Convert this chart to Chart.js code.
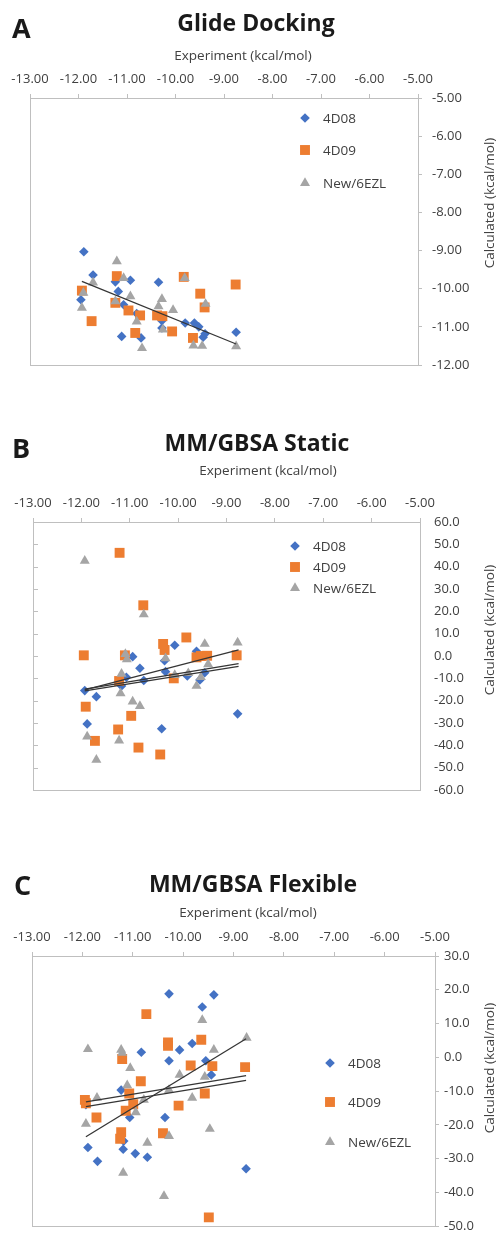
<!DOCTYPE html>
<html>
<head>
<meta charset="utf-8">
<script src="https://cdn.jsdelivr.net/npm/chart.js@4/dist/chart.umd.min.js"></script>
<style>
  body { margin: 0; background: #fff; width: 499px; height: 1239px; position: relative; overflow: hidden; }
  canvas { position: absolute; left: 0; }
</style>
</head>
<body>
<canvas id="chartA" width="499" height="400" style="top:0px"></canvas>
<canvas id="chartB" width="499" height="440" style="top:400px"></canvas>
<canvas id="chartC" width="499" height="399" style="top:840px"></canvas>
<script>
const seriesNames = ['4D08', '4D09', 'New/6EZL'];
const trendX = [-11.93, -8.75];

// A - Glide Docking
const aX08 = [-11.89, -11.70, -11.95, -11.24, -11.18, -10.93, -11.07, -10.80, -11.11, -10.71, -10.35, -10.28, -10.28, -9.80, -9.61, -9.52, -9.43, -9.39, -8.75];
const aY08 = [-9.03, -9.64, -10.29, -9.82, -10.07, -9.78, -10.42, -10.65, -11.25, -11.29, -9.83, -10.84, -11.03, -10.90, -10.90, -11.00, -11.27, -11.18, -11.14];
const aX09 = [-11.93, -11.73, -11.21, -11.24, -10.97, -10.73, -10.83, -10.38, -10.27, -10.07, -9.83, -9.64, -9.49, -9.40, -8.76];
const aY09 = [-10.05, -10.85, -9.67, -10.37, -10.57, -10.70, -11.16, -10.70, -10.72, -11.12, -9.69, -11.29, -10.13, -10.49, -9.89];
const aXNew = [-11.93, -11.90, -11.70, -11.21, -11.07, -11.24, -10.93, -10.80, -10.69, -10.35, -10.28, -10.26, -10.05, -9.81, -9.63, -9.45, -9.38, -8.75];
const aYNew = [-10.50, -10.11, -9.84, -9.28, -9.72, -10.33, -10.20, -10.86, -11.56, -10.46, -10.27, -11.07, -10.56, -9.72, -11.49, -11.50, -10.40, -11.51];
const aTrends = [[-9.81, -11.45]];

// B - MM/GBSA Static
const bX08 = [-11.93, -11.69, -11.88, -10.34, -8.77, -10.94, -10.79, -10.71, -11.07, -11.17, -10.07, -10.26, -10.28, -9.81, -9.62, -9.55, -9.45];
const bY08 = [-15.5, -18.2, -30.4, -32.6, -25.9, -0.3, -5.5, -11.0, -9.5, -13.4, 4.8, -7.0, -2.1, -8.9, 2.1, -10.7, -7.5];
const bX09 = [-11.21, -11.95, -11.91, -11.72, -11.24, -11.10, -11.22, -10.97, -10.82, -10.72, -10.37, -10.31, -10.28, -10.09, -9.83, -9.62, -9.53, -9.40, -8.79];
const bY09 = [46.2, 0.3, -22.7, -38.0, -32.9, 0.3, -11.2, -26.8, -41.0, 22.7, -44.1, 5.4, 2.7, -10.0, 8.3, -0.6, 0.0, 0.1, 0.3];
const bXNew = [-11.93, -11.88, -11.69, -11.22, -11.19, -11.17, -11.09, -11.06, -10.94, -10.79, -10.71, -10.26, -10.07, -9.79, -9.62, -9.53, -9.45, -9.38, -8.77];
const bYNew = [42.6, -36.1, -46.5, -37.9, -16.7, -8.0, 0.9, -1.5, -20.4, -22.4, 18.6, -1.0, -8.5, -7.7, -13.4, -9.5, 5.4, -3.7, 6.0];
const bTrends = [[-15.2, 2.7], [-14.8, -3.4], [-15.6, -4.6]];

// C - MM/GBSA Flexible
const cX08 = [-10.28, -9.39, -9.62, -10.83, -10.28, -10.07, -9.82, -9.55, -9.44, -11.23, -11.89, -11.70, -11.19, -10.95, -10.71, -10.36, -8.75, -11.06, -11.18, -11.93];
const cY08 = [18.8, 18.5, 14.9, 1.5, -1.0, 2.2, 4.1, -1.0, -5.2, -9.7, -26.7, -30.8, -27.2, -28.5, -29.6, -17.8, -33.0, -17.8, -24.8, -14.0];
const cX09 = [-10.73, -10.30, -10.30, -9.64, -11.21, -10.84, -9.85, -9.42, -8.77, -9.57, -11.07, -11.95, -11.93, -11.72, -10.99, -11.14, -11.23, -11.25, -10.40, -10.09, -9.49];
const cY09 = [12.8, 4.4, 3.4, 5.2, -0.5, -7.1, -2.4, -2.6, -2.9, -10.7, -10.7, -12.6, -13.6, -17.8, -13.9, -15.8, -22.2, -24.1, -22.5, -14.3, -47.4];
const cXNew = [-11.89, -11.23, -11.21, -11.05, -11.11, -11.71, -11.93, -10.94, -10.78, -10.71, -11.19, -10.38, -10.28, -10.07, -10.28, -9.82, -9.57, -9.47, -9.39, -8.74, -9.62];
const cYNew = [2.4, 2.2, 1.3, -3.2, -8.3, -12.0, -19.7, -16.3, -12.6, -25.3, -34.2, -41.1, -23.3, -5.2, -9.7, -12.0, -5.8, -21.2, 2.2, 5.8, 11.0];
const cTrends = [[-23.5, 5.5], [-13.2, -5.4], [-14.6, -6.8]];

const FONT = "'Open Sans', sans-serif";
const TEXT = '#404040';
const AXIS = '#bfbfbf';
const styles = [
  { shape: 'rectRot', r: 4.8, color: '#4472C4' },
  { shape: 'rect', r: 7, color: '#ED7D31' },
  { shape: 'triangle', r: 5.8, color: '#A5A5A5' }
];

function pts(xs, ys) {
  return xs.map((x, i) => ({ x: x, y: ys[i] }));
}

// legend markers drawn by hand, same shapes as chart.js points
function marker(ctx, st, x, y) {
  ctx.fillStyle = st.color;
  ctx.beginPath();
  if (st.shape === 'rectRot') {
    ctx.moveTo(x, y - st.r); ctx.lineTo(x + st.r, y); ctx.lineTo(x, y + st.r); ctx.lineTo(x - st.r, y);
  } else if (st.shape === 'rect') {
    const s = st.r * Math.SQRT1_2;
    ctx.rect(x - s, y - s, 2 * s, 2 * s);
  } else {
    const h = st.r * Math.sin(Math.PI / 3);
    ctx.moveTo(x, y - st.r); ctx.lineTo(x + h, y + st.r / 2); ctx.lineTo(x - h, y + st.r / 2);
  }
  ctx.closePath();
  ctx.fill();
}

const deco = {
  id: 'deco',
  beforeDatasetsDraw(chart, args, o) {
    const ctx = chart.ctx, a = chart.chartArea;
    ctx.save();
    ctx.strokeStyle = AXIS;
    ctx.lineWidth = 1;
    ctx.strokeRect(Math.round(a.left) + 0.5, Math.round(a.top) + 0.5, Math.round(a.right - a.left), Math.round(a.bottom - a.top));
    if (o.innerTicks) {
      const ys = chart.scales.y;
      ctx.beginPath();
      ys.ticks.forEach(t => {
        const py = Math.round(ys.getPixelForValue(t.value)) + 0.5;
        ctx.moveTo(a.left, py);
        ctx.lineTo(a.left + 5, py);
      });
      ctx.stroke();
    }
    ctx.restore();
  },
  afterDraw(chart, args, o) {
    const ctx = chart.ctx;
    ctx.save();
    ctx.textBaseline = 'alphabetic';
    ctx.fillStyle = '#1a1a1a';
    ctx.font = 'bold 27px ' + FONT;
    ctx.textAlign = 'left';
    ctx.fillText(o.letter, o.letterX, o.letterY);
    ctx.font = 'bold 23px ' + FONT;
    ctx.textAlign = 'center';
    ctx.fillText(o.title, o.titleX, o.titleY);
    ctx.fillStyle = TEXT;
    ctx.font = '13.5px ' + FONT;
    ctx.fillText('Experiment (kcal/mol)', o.xTitleX, o.xTitleY);
    ctx.save();
    ctx.translate(o.yTitleX, o.yTitleY);
    ctx.rotate(-Math.PI / 2);
    ctx.textBaseline = 'middle';
    ctx.fillText('Calculated (kcal/mol)', 0, 0);
    ctx.restore();
    // legend
    ctx.textAlign = 'left';
    ctx.textBaseline = 'middle';
    seriesNames.forEach((name, i) => {
      const ly = o.legendY[i];
      marker(ctx, styles[i], o.legendX, ly);
      ctx.fillStyle = TEXT;
      ctx.fillText(name, o.legendX + 18, ly + 1);
    });
    ctx.restore();
  }
};

function buildChart(id, p) {
  const canvas = document.getElementById(id);
  const datasets = p.series.map((s, i) => ({
    label: seriesNames[i],
    data: pts(s[0], s[1]),
    pointStyle: styles[i].shape,
    pointRadius: styles[i].r,
    pointBackgroundColor: styles[i].color,
    pointBorderWidth: 0,
    showLine: false,
    order: 3 - i
  }));
  p.trends.forEach(t => {
    datasets.push({
      type: 'line',
      data: pts(trendX, t),
      showLine: true,
      borderColor: '#353535',
      borderWidth: 1.3,
      pointRadius: 0,
      fill: false,
      order: 0
    });
  });
  new Chart(canvas, {
    type: 'scatter',
    data: { datasets: datasets },
    options: {
      responsive: false,
      animation: false,
      layout: { padding: { left: p.left, top: 0, right: 0, bottom: canvas.height - p.bottom } },
      plugins: {
        legend: { display: false },
        tooltip: { enabled: false },
        deco: p.deco
      },
      scales: {
        x: {
          type: 'linear', position: 'top', min: -13, max: -5,
          ticks: { stepSize: 1, autoSkip: false, maxRotation: 0, padding: 7, color: TEXT,
                   font: { family: FONT, size: 13 }, callback: v => v.toFixed(2) },
          grid: { drawOnChartArea: false, drawTicks: true, tickLength: 4, color: AXIS },
          border: { color: AXIS },
          afterFit: s => { s.height = p.top; }
        },
        y: {
          type: 'linear', position: 'right', min: p.yMin, max: p.yMax,
          ticks: { stepSize: p.yStep, autoSkip: false, padding: p.yPad, color: TEXT,
                   font: { family: FONT, size: 13 }, callback: v => v.toFixed(p.dec) },
          grid: { drawOnChartArea: false, drawTicks: p.outerTicks, tickLength: 4, color: AXIS },
          border: { color: AXIS },
          afterFit: s => { s.width = 499 - p.right; }
        }
      }
    },
    plugins: [deco]
  });
}

buildChart('chartA', {
  series: [[aX08, aY08], [aX09, aY09], [aXNew, aYNew]], trends: aTrends,
  left: 30, right: 418, top: 98, bottom: 365,
  yMin: -12, yMax: -5, yStep: 1, dec: 2, yPad: 10, outerTicks: true,
  deco: { letter: 'A', letterX: 12, letterY: 38, title: 'Glide Docking', titleX: 256, titleY: 31,
          xTitleX: 243, xTitleY: 60, yTitleX: 490, yTitleY: 203,
          legendX: 305, legendY: [118, 150, 183], innerTicks: false }
});

buildChart('chartB', {
  series: [[bX08, bY08], [bX09, bY09], [bXNew, bYNew]], trends: bTrends,
  left: 33, right: 420, top: 122, bottom: 390,
  yMin: -60, yMax: 60, yStep: 10, dec: 1, yPad: 14, outerTicks: false,
  deco: { letter: 'B', letterX: 12, letterY: 58, title: 'MM/GBSA Static', titleX: 257, titleY: 51,
          xTitleX: 268, xTitleY: 75, yTitleX: 490, yTitleY: 230,
          legendX: 295, legendY: [146, 167, 188], innerTicks: true }
});

buildChart('chartC', {
  series: [[cX08, cY08], [cX09, cY09], [cXNew, cYNew]], trends: cTrends,
  left: 32, right: 435, top: 116, bottom: 390,
  yMin: -50, yMax: 30, yStep: 10, dec: 1, yPad: 5, outerTicks: true,
  deco: { letter: 'C', letterX: 14, letterY: 55, title: 'MM/GBSA Flexible', titleX: 253, titleY: 52,
          xTitleX: 248, xTitleY: 77, yTitleX: 490, yTitleY: 228,
          legendX: 330, legendY: [223, 262, 302], innerTicks: false }
});
</script>
</body>
</html>
